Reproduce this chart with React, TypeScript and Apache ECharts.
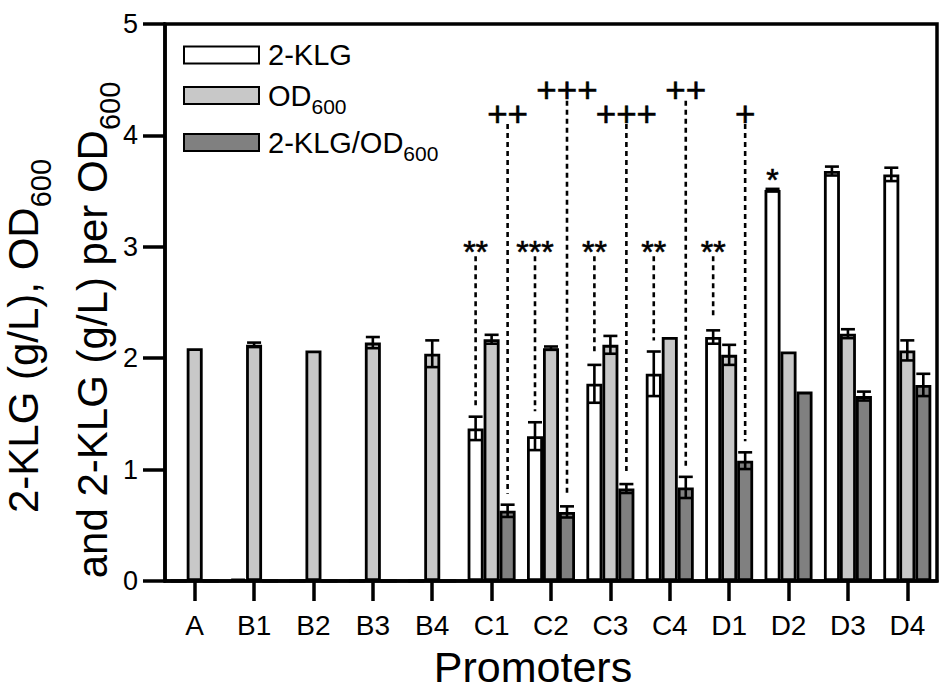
import React, { useEffect, useRef } from 'react';
import * as echarts from 'echarts';

const categories = ['A', 'B1', 'B2', 'B3', 'B4', 'C1', 'C2', 'C3', 'C4', 'D1', 'D2', 'D3', 'D4'];
const seriesNames = ['2-KLG', 'OD600', '2-KLG/OD600'];
const klg = [0, 0.02, 0, 0, 0, 1.37, 1.3, 1.77, 1.86, 2.19, 3.51, 3.68, 3.65];
const klgErr = [0, 0, 0, 0, 0, 0.105, 0.125, 0.17, 0.2, 0.06, 0.01, 0.04, 0.06];
const od = [2.09, 2.12, 2.07, 2.14, 2.04, 2.17, 2.09, 2.12, 2.19, 2.03, 2.06, 2.22, 2.07];
const odErr = [0, 0.02, 0, 0.05, 0.12, 0.04, 0.015, 0.08, 0, 0.09, 0, 0.04, 0.09];
const ratio = [0, 0, 0, 0, 0, 0.63, 0.62, 0.83, 0.84, 1.08, 1.7, 1.66, 1.76];
const ratioErr = [0, 0, 0, 0, 0, 0.055, 0.05, 0.04, 0.095, 0.075, 0, 0.04, 0.1];
const yMin = 0;
const yMax = 5;
const yStep = 1;

// significance marks vs. 2-KLG bars (asterisks) and vs. 2-KLG/OD600 bars (plus signs)
const starCats = ['C1', 'C2', 'C3', 'C4', 'D1', 'D2'];
const starLabels = ['**', '***', '**', '**', '**', '*'];
const starLevels = [2.95, 2.95, 2.95, 2.95, 2.95, 3.6];
const starHasLine = [true, true, true, true, true, false];
const plusCats = ['C1', 'C2', 'C3', 'C4', 'D1'];
const plusLabels = ['++', '+++', '+++', '++', '+'];
const plusLevels = [4.2, 4.41, 4.2, 4.41, 4.2];

const FONT = "'Liberation Sans', Arial, Helvetica, sans-serif";
const BAR_W = 16;
const CAP = 7;
const colors = ['#ffffff', '#c8c8c8', '#808080'];

function errorSeries(values: number[], errs: number[], slot: number) {
  return {
    type: 'custom',
    silent: true,
    z: 5,
    encode: { x: 0, y: 1 },
    data: values.map((v, i) => [i, v, errs[i]]),
    renderItem: (params: any, api: any) => {
      const idx = api.value(0);
      const v = api.value(1);
      const e = api.value(2);
      if (!e) return null;
      const top = api.coord([idx, v + e]);
      const bot = api.coord([idx, v - e]);
      const x = top[0] + slot * BAR_W;
      const style = { stroke: '#000', lineWidth: 2.6 };
      return {
        type: 'group',
        children: [
          { type: 'line', shape: { x1: x, y1: top[1], x2: x, y2: bot[1] }, style },
          { type: 'line', shape: { x1: x - CAP, y1: top[1], x2: x + CAP, y2: top[1] }, style },
          { type: 'line', shape: { x1: x - CAP, y1: bot[1], x2: x + CAP, y2: bot[1] }, style },
        ],
      };
    },
  };
}

function annotationSeries(
  cats: string[],
  labels: string[],
  levels: number[],
  hasLine: boolean[],
  values: number[],
  errs: number[],
  slot: number,
  fontSize: number,
  lineStartOffset: number
) {
  return {
    type: 'custom',
    silent: true,
    z: 6,
    encode: { x: 0, y: 1 },
    data: cats.map((c, k) => {
      const i = categories.indexOf(c);
      return [i, levels[k], values[i] + errs[i]];
    }),
    renderItem: (params: any, api: any) => {
      const k = params.dataIndex;
      const idx = api.value(0);
      const t = api.coord([idx, api.value(1)]);
      const b = api.coord([idx, api.value(2)]);
      const x = t[0] + slot * BAR_W;
      const children: any[] = [
        {
          type: 'text',
          x,
          y: t[1],
          style: {
            text: labels[k],
            fontSize,
            fontFamily: FONT,
            fill: '#000',
            stroke: '#000',
            lineWidth: 0.6,
            align: 'center',
            verticalAlign: 'middle',
          },
        },
      ];
      if (hasLine[k]) {
        children.push({
          type: 'line',
          shape: { x1: x, y1: t[1] + lineStartOffset, x2: x, y2: b[1] - 11 },
          style: { stroke: '#000', lineWidth: 2.6, lineDash: [5, 4] },
        });
      }
      return { type: 'group', children };
    },
  };
}

export default function App() {
  const ref = useRef<HTMLDivElement>(null);

  useEffect(() => {
    document.body.style.margin = '0';
    if (!ref.current) return;
    const chart = echarts.init(ref.current, undefined, { renderer: 'svg' });
    const barStyle = (i: number) => ({
      color: colors[i],
      borderColor: '#000',
      borderWidth: 2.8,
    });
    const subRich = (size: number, pad: number) => ({
      sub: { fontFamily: FONT, fontSize: size, lineHeight: size, padding: [pad, 0, 0, 0], color: '#000', fill: '#000' },
    });
    const option: any = {
      animation: false,
      backgroundColor: '#ffffff',
      grid: {
        left: 165,
        right: 13,
        top: 24,
        bottom: 111,
        show: true,
        borderColor: '#000',
        borderWidth: 3.5,
        backgroundColor: 'transparent',
      },
      legend: {
        data: seriesNames,
        orient: 'vertical',
        left: 183,
        top: 40,
        padding: 0,
        itemGap: 4,
        itemWidth: 75,
        itemHeight: 17,
        icon: 'rect',
        selectedMode: false,
        formatter: (name: string) => name.replace('600', '{sub|600}'),
        textStyle: {
          fontFamily: FONT,
          fontSize: 29,
          lineHeight: 30,
          color: '#000',
          padding: [0, 0, 0, 4],
          rich: subRich(21, 22),
        },
      },
      xAxis: {
        type: 'category',
        data: categories,
        boundaryGap: true,
        axisLine: { show: true, lineStyle: { color: '#000', width: 3.5 } },
        axisTick: { show: true, alignWithLabel: true, length: 20, lineStyle: { color: '#000', width: 3.5 } },
        axisLabel: { fontFamily: FONT, fontSize: 28, color: '#000', margin: 30 },
        splitLine: { show: false },
      },
      yAxis: {
        type: 'value',
        min: yMin,
        max: yMax,
        interval: yStep,
        axisLine: { show: true, lineStyle: { color: '#000', width: 3.5 } },
        axisTick: { show: true, length: 22, lineStyle: { color: '#000', width: 3.5 } },
        axisLabel: { fontFamily: FONT, fontSize: 27, color: '#000', margin: 27 },
        splitLine: { show: false },
      },
      graphic: [
        {
          type: 'text',
          x: 23,
          y: 336,
          rotation: Math.PI / 2,
          style: {
            text: '2-KLG (g/L), OD{sub|600}',
            fontFamily: FONT,
            fontSize: 42,
            fill: '#000',
            align: 'center',
            verticalAlign: 'middle',
            rich: subRich(29, 36),
          },
        },
        {
          type: 'text',
          x: 92,
          y: 330,
          rotation: Math.PI / 2,
          style: {
            text: 'and 2-KLG (g/L) per OD{sub|600}',
            fontFamily: FONT,
            fontSize: 42,
            fill: '#000',
            align: 'center',
            verticalAlign: 'middle',
            rich: subRich(29, 36),
          },
        },
        {
          type: 'text',
          x: 533,
          y: 667,
          style: {
            text: 'Promoters',
            fontFamily: FONT,
            fontSize: 43,
            fill: '#000',
            align: 'center',
            verticalAlign: 'middle',
          },
        },
      ],
      series: [
        { name: seriesNames[0], type: 'bar', data: klg, barWidth: BAR_W, barGap: '0%', itemStyle: barStyle(0), z: 3 },
        { name: seriesNames[1], type: 'bar', data: od, barWidth: BAR_W, barGap: '0%', itemStyle: barStyle(1), z: 3 },
        { name: seriesNames[2], type: 'bar', data: ratio, barWidth: BAR_W, barGap: '0%', itemStyle: barStyle(2), z: 3 },
        errorSeries(klg, klgErr, -1),
        errorSeries(od, odErr, 0),
        errorSeries(ratio, ratioErr, 1),
        annotationSeries(starCats, starLabels, starLevels, starHasLine, klg, klgErr, -1, 32, 4),
        annotationSeries(plusCats, plusLabels, plusLevels, [true, true, true, true, true], ratio, ratioErr, 1, 35, 11),
      ],
    };
    chart.setOption(option);
    return () => {
      chart.dispose();
    };
  }, []);

  return <div ref={ref} style={{ width: 950, height: 692 }} />;
}
